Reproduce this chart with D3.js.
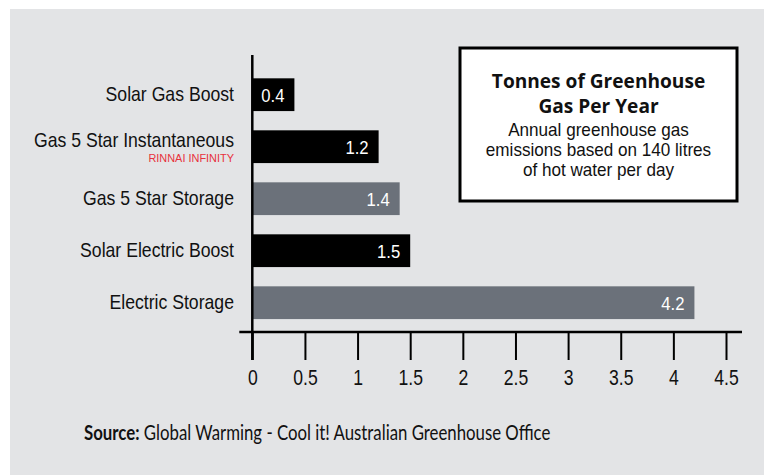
<!DOCTYPE html>
<html>
<head>
<meta charset="utf-8">
<script src="https://d3js.org/d3.v7.min.js"></script>
<style>
  body { margin: 0; background: #fff; }
  svg { display: block; }
</style>
</head>
<body>
<svg width="764" height="475"></svg>
<script>
const categories = ["Solar Gas Boost", "Gas 5 Star Instantaneous", "Gas 5 Star Storage", "Solar Electric Boost", "Electric Storage"];
const values = [0.4, 1.2, 1.4, 1.5, 4.2];
const barColors = ["#000000", "#000000", "#6b717a", "#000000", "#6b717a"];
const subLabels = ["", "RINNAI INFINITY", "", "", ""];
const ticks = [0, 0.5, 1, 1.5, 2, 2.5, 3, 3.5, 4, 4.5];
const boxTitle = ["Tonnes of Greenhouse", "Gas Per Year"];
const boxText = ["Annual greenhouse gas", "emissions based on 140 litres", "of hot water per day"];
const sourceLead = "Source:";
const sourceText = "Global Warming - Cool it! Australian Greenhouse Office";

const helv = "'Liberation Sans', Arial, sans-serif";
const humanist = "Lato, sans-serif";

const svg = d3.select("svg"), width = +svg.attr("width"), height = +svg.attr("height");

// squeeze a text horizontally, the reference uses a narrow face
function condense(sel, k) {
  sel.each(function() {
    const len = this.getComputedTextLength();
    if (len > 0) d3.select(this).attr("textLength", len * k).attr("lengthAdjust", "spacingAndGlyphs");
  });
}

// grey panel
svg.append("rect")
  .attr("x", 10).attr("y", 9)
  .attr("width", width - 10).attr("height", height - 9)
  .attr("fill", "#e3e4e6");

const x = d3.scaleLinear().domain([0, 4.5]).range([252.3, 726]);
const y = d3.scaleBand().domain(categories).range([68.7, 328.7])
  .paddingInner(0.37).paddingOuter(0.185);
const axisY = 332;

// bars
svg.append("g").selectAll("rect")
  .data(categories)
  .join("rect")
  .attr("x", x(0))
  .attr("y", d => y(d))
  .attr("width", (d, i) => x(values[i]) - x(0))
  .attr("height", y.bandwidth())
  .attr("fill", (d, i) => barColors[i]);

// value labels
svg.append("g").selectAll("text")
  .data(categories)
  .join("text")
  .attr("x", (d, i) => x(values[i]) - 10)
  .attr("y", d => y(d) + y.bandwidth() / 2 + 7)
  .attr("text-anchor", "end")
  .attr("fill", "#fff")
  .style("font-family", helv)
  .style("font-size", "18.5px")
  .text((d, i) => values[i])
  .call(condense, 0.9);

// category labels
const cat = svg.append("g").selectAll("g")
  .data(categories)
  .join("g");
cat.append("text")
  .attr("x", 234)
  .attr("y", (d, i) => y(d) + y.bandwidth() / 2 + (subLabels[i] ? 0 : 6.5))
  .attr("text-anchor", "end")
  .attr("fill", "#111")
  .style("font-family", helv)
  .style("font-size", "21px")
  .text(d => d)
  .call(condense, 0.84);
cat.append("text")
  .attr("x", 234)
  .attr("y", d => y(d) + y.bandwidth() / 2 + 15.5)
  .attr("text-anchor", "end")
  .attr("fill", "#e8323c")
  .style("font-family", helv)
  .style("font-size", "11.5px")
  .text((d, i) => subLabels[i])
  .call(condense, 0.95);

// x axis
const xAxis = svg.append("g")
  .attr("transform", `translate(0,${axisY})`)
  .call(d3.axisBottom(x).tickValues(ticks).tickSize(28).tickPadding(9)
    .tickFormat(d3.format("")));
xAxis.select(".domain").remove();
xAxis.selectAll(".tick line").attr("stroke", "#000").attr("stroke-width", 2);
xAxis.selectAll(".tick text")
  .attr("fill", "#111")
  .style("font-family", helv)
  .style("font-size", "22px")
  .call(condense, 0.8);
svg.append("line")
  .attr("x1", x(0) - 13).attr("x2", x(4.5) + 16)
  .attr("y1", axisY).attr("y2", axisY)
  .attr("stroke", "#000").attr("stroke-width", 2.5);
svg.append("line")
  .attr("x1", x(0)).attr("x2", x(0))
  .attr("y1", 55).attr("y2", axisY + 28)
  .attr("stroke", "#000").attr("stroke-width", 2.5);

// info box
const box = svg.append("g");
box.append("rect")
  .attr("x", 460).attr("y", 48)
  .attr("width", 277).attr("height", 153)
  .attr("fill", "#fff").attr("stroke", "#000").attr("stroke-width", 3);
box.selectAll("text.title")
  .data(boxTitle)
  .join("text")
  .attr("class", "title")
  .attr("x", 598.5)
  .attr("y", (d, i) => 88 + i * 25)
  .attr("text-anchor", "middle")
  .attr("fill", "#111")
  .style("font-family", "'Open Sans', sans-serif")
  .style("font-weight", "bold")
  .style("font-size", "19.5px")
  .text(d => d)
  .call(condense, 0.98);
box.selectAll("text.sub")
  .data(boxText)
  .join("text")
  .attr("class", "sub")
  .attr("x", 598.5)
  .attr("y", (d, i) => 136 + i * 20)
  .attr("text-anchor", "middle")
  .attr("fill", "#111")
  .style("font-family", helv)
  .style("font-size", "19px")
  .text(d => d)
  .call(condense, 0.9);

// source line, one text squeezed as a whole
const src = svg.append("g")
  .attr("transform", "translate(84,440) scale(0.8,1)")
  .append("text")
  .attr("fill", "#111")
  .style("font-family", humanist)
  .style("font-size", "21px");
src.append("tspan").style("font-weight", "bold").text(sourceLead);
src.append("tspan").text(" " + sourceText);
</script>
</body>
</html>
